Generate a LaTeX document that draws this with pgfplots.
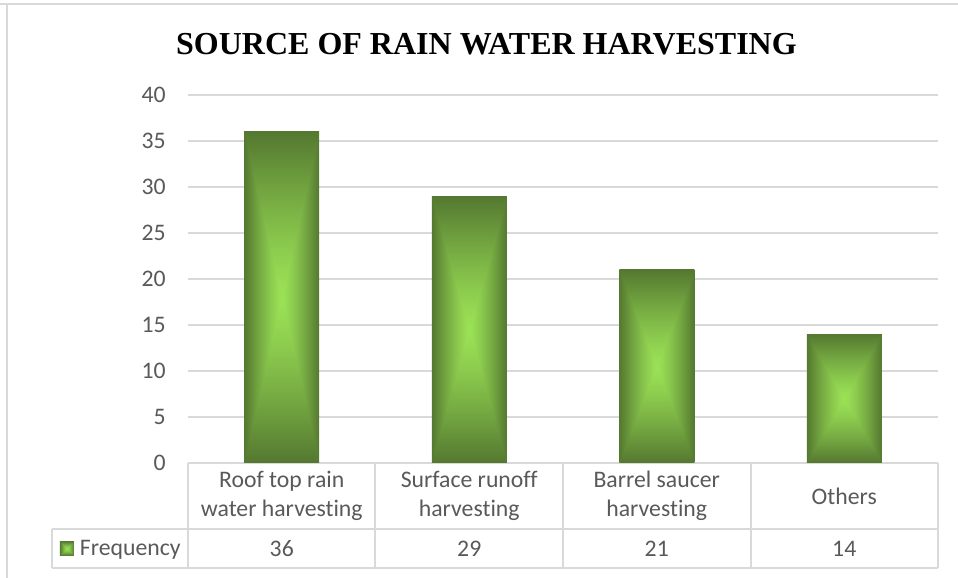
\documentclass[border=0pt]{standalone}
\usepackage{pgfplots}
\pgfplotsset{compat=1.18}
\usepackage{fontspec}
\setmainfont{Carlito}[Ligatures=NoCommon]
\newfontfamily\titlefont{Liberation Serif}
\definecolor{txt}{HTML}{595959}
\definecolor{gridc}{HTML}{D9D9D9}
\pgfdeclarefunctionalshading{barshade}{\pgfpointorigin}{\pgfpoint{100bp}{100bp}}{}{
  50 sub abs 25 div exch 50 sub abs 25 div
  2 copy lt {exch} if pop
  dup 1 gt {pop 1} if
  1.25 exp
  dup -0.278 mul 0.608 add exch
  dup -0.416 mul 0.886 add exch
  -0.149 mul 0.337 add
}
\pgfplotsset{barsty/.style={ybar, bar width=56.25pt, bar shift=0pt, draw=none, shade, shading=barshade}}
\begin{document}
\begin{tikzpicture}
\useasboundingbox (0,0) rectangle (718.5pt,433.5pt);
\draw[gridc, line width=1.5pt] (5.25pt,-5pt) -- (5.25pt,430.125pt);
\draw[gridc, line width=1.5pt] (0pt,430.125pt) -- (720pt,430.125pt);
\node[anchor=base, font=\titlefont\bfseries\fontsize{24}{29}\selectfont] at (364.875pt,392.25pt) {SOURCE OF RAIN WATER HARVESTING};
\begin{axis}[
  at={(141pt,86.25pt)}, anchor=south west,
  scale only axis, width=562.5pt, height=276pt,
  xmin=-0.5, xmax=3.5, ymin=0, ymax=40,
  ytick={0,5,...,40}, xtick={0,1,2,3},
  xticklabels={{Roof top rain\\water harvesting},{Surface runoff\\harvesting},{Barrel saucer\\harvesting},{Others}},
  axis line style={draw=none},
  major tick length=0pt,
  ymajorgrids, grid style={gridc, line width=1.1pt},
  clip=false,
  /pgf/number format/assume math mode=true,
  tick label style={font=\fontsize{17.8}{22}\selectfont, text=txt},
  yticklabel style={anchor=east, inner sep=0pt, xshift=-16.5pt},
  xticklabel style={anchor=center, align=center, inner sep=0pt, yshift=-24.75pt},
  legend style={at={(axis cs:-1.1827,-9.29)}, anchor=west, draw=none, fill=none,
    inner sep=0pt, outer sep=0pt, font=\fontsize{17.8}{22}\selectfont, text=txt,
    nodes={inner sep=0pt}, column sep=4.5pt},
]
\addplot[barsty,
  legend image code/.code={\path[shade, shading=barshade] (0pt,-5.25pt) rectangle (10.5pt,5.25pt);}]
  coordinates {(0,36)};
\addlegendentry{Frequency}
\addplot[barsty, forget plot] coordinates {(1,29)};
\addplot[barsty, forget plot] coordinates {(2,21)};
\addplot[barsty, forget plot] coordinates {(3,14)};
% data table grid
\draw[gridc, line width=1.5pt] (axis cs:-1.2253,-7.174) -- (axis cs:3.5,-7.174);
\draw[gridc, line width=1.5pt] (axis cs:-1.2253,-11.413) -- (axis cs:3.5,-11.413);
\draw[gridc, line width=1.5pt] (axis cs:-1.2253,-7.174) -- (axis cs:-1.2253,-11.413);
\draw[gridc, line width=1.5pt] (axis cs:-0.5,0) -- (axis cs:-0.5,-11.413);
\draw[gridc, line width=1.5pt] (axis cs:0.5,0) -- (axis cs:0.5,-11.413);
\draw[gridc, line width=1.5pt] (axis cs:1.5,0) -- (axis cs:1.5,-11.413);
\draw[gridc, line width=1.5pt] (axis cs:2.5,0) -- (axis cs:2.5,-11.413);
\draw[gridc, line width=1.5pt] (axis cs:3.5,0) -- (axis cs:3.5,-11.413);
\node[text=txt, font=\fontsize{17.8}{22}\selectfont] at (axis cs:0,-9.29) {36};
\node[text=txt, font=\fontsize{17.8}{22}\selectfont] at (axis cs:1,-9.29) {29};
\node[text=txt, font=\fontsize{17.8}{22}\selectfont] at (axis cs:2,-9.29) {21};
\node[text=txt, font=\fontsize{17.8}{22}\selectfont] at (axis cs:3,-9.29) {14};
\end{axis}
\end{tikzpicture}
\end{document}
